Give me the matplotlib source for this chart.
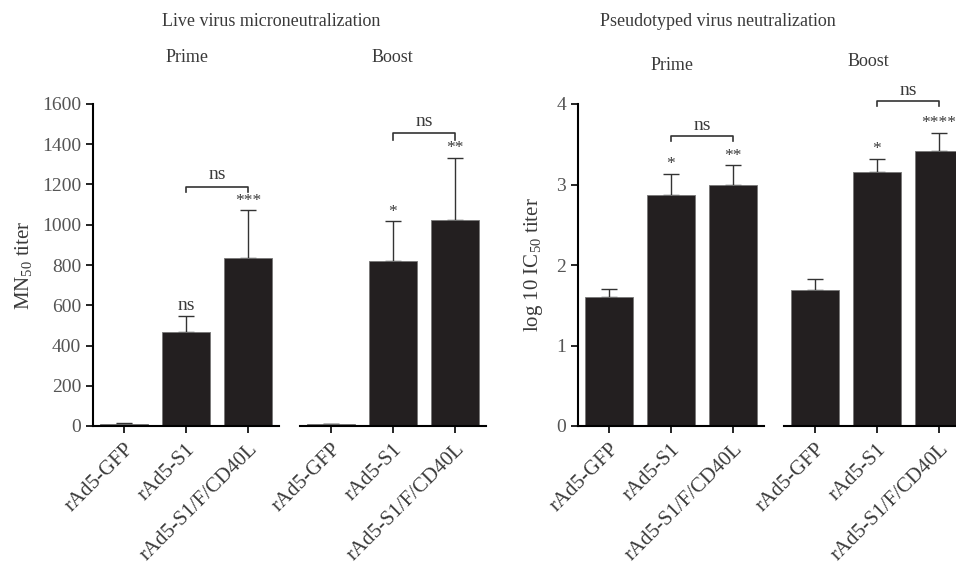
import matplotlib
matplotlib.use("Agg")
import matplotlib.pyplot as plt

plt.rcParams['font.family'] = ['Liberation Serif', 'DejaVu Serif']
plt.rcParams['mathtext.fontset'] = 'custom'
plt.rcParams['mathtext.rm'] = 'Liberation Serif'
plt.rcParams['mathtext.it'] = 'Liberation Serif:italic'

groups = ['rAd5-GFP', 'rAd5-S1', 'rAd5-S1/F/CD40L']

# live virus MN50 titer
mn_prime = [10, 466, 835]
mn_prime_err = [3, 82, 237]
mn_boost = [10, 820, 1022]
mn_boost_err = [2, 197, 312]
mn_prime_sig = ['', 'ns', '***']
mn_boost_sig = ['', '*', '**']

# pseudotyped virus log10 IC50 titer
ic_prime = [1.60, 2.87, 3.00]
ic_prime_err = [0.10, 0.26, 0.24]
ic_boost = [1.69, 3.16, 3.42]
ic_boost_err = [0.14, 0.16, 0.22]
ic_prime_sig = ['', '*', '**']
ic_boost_sig = ['', '*', '****']

W, H = 956, 565
fig = plt.figure(figsize=(W / 100, H / 100), dpi=100)

txt = '#3a3a3a'
barc = '#231f20'


def make_ax(x0, x1, y0=104, y1=426):
    return fig.add_axes([x0 / W, 1 - y1 / H, (x1 - x0) / W, (y1 - y0) / H])


def draw(ax, vals, errs, sig, ymax, yticks, first, bracket, star_off):
    x = range(len(vals))
    ax.bar(x, vals, width=0.77, color=barc, edgecolor='#777777', linewidth=0.6, zorder=2)
    ax.errorbar(x, vals, yerr=[[0] * len(errs), errs], fmt='none', ecolor='#333333',
                elinewidth=1.0, capsize=6, capthick=1.0, zorder=1)
    for i, s in enumerate(sig):
        if s:
            fs = 14 if s == 'ns' else 12.5
            ax.text(i, vals[i] + errs[i] + star_off, s, ha='center', va='bottom',
                    fontsize=fs, color=txt)
    ax.set_xlim(-0.5, 2.5)
    ax.set_ylim(0, ymax)
    ax.set_xticks(list(x))
    ax.set_xticklabels(groups, rotation=45, ha='right', rotation_mode='anchor',
                       fontsize=15, color=txt)
    ax.tick_params(axis='x', length=5, width=1.2, pad=5)
    ax.spines['top'].set_visible(False)
    ax.spines['right'].set_visible(False)
    ax.spines['bottom'].set_linewidth(1.5)
    ax.spines['left'].set_linewidth(1.5)
    if first:
        ax.set_yticks(yticks)
        ax.tick_params(axis='y', length=5, width=1.2, labelsize=14, labelcolor='#555555')
    else:
        ax.spines['left'].set_visible(False)
        ax.set_yticks([])
    if bracket:
        yb, leg, ytxt = bracket
        ax.plot([1, 1, 2, 2], [yb - leg, yb, yb, yb - leg], color='#333333', lw=1.2,
                clip_on=False)
        ax.text(1.5, ytxt, 'ns', ha='center', va='bottom', fontsize=14, color=txt)


ax1 = make_ax(93, 279)
draw(ax1, mn_prime, mn_prime_err, mn_prime_sig, 1600, range(0, 1601, 200), True,
     (1190, 25, 1205), 8)
ax1.set_ylabel('MN$_{50}$ titer', fontsize=15, color=txt, labelpad=6)

ax2 = make_ax(300, 486)
draw(ax2, mn_boost, mn_boost_err, mn_boost_sig, 1600, [], False, (1454, 32, 1469), 8)

ax3 = make_ax(578, 764)
draw(ax3, ic_prime, ic_prime_err, ic_prime_sig, 4, range(0, 5), True, (3.60, 0.06, 3.63), 0.02)
ax3.set_ylabel('log 10 IC$_{50}$ titer', fontsize=15, color=txt, labelpad=8)

ax4 = make_ax(784, 970)
draw(ax4, ic_boost, ic_boost_err, ic_boost_sig, 4, [], False, (4.04, 0.07, 4.06), 0.02)

fig.text(271 / W, 1 - 22 / H, 'Live virus microneutralization', ha='center', va='center',
         fontsize=13, color=txt)
fig.text(187 / W, 1 - 58 / H, 'Prime', ha='center', va='center', fontsize=13, color=txt)
fig.text(392 / W, 1 - 58 / H, 'Boost', ha='center', va='center', fontsize=13, color=txt)
fig.text(718 / W, 1 - 22 / H, 'Pseudotyped virus neutralization', ha='center', va='center',
         fontsize=13, color=txt)
fig.text(672 / W, 1 - 65 / H, 'Prime', ha='center', va='center', fontsize=13, color=txt)
fig.text(868 / W, 1 - 62 / H, 'Boost', ha='center', va='center', fontsize=13, color=txt)

fig.savefig('out.png', dpi=100)
